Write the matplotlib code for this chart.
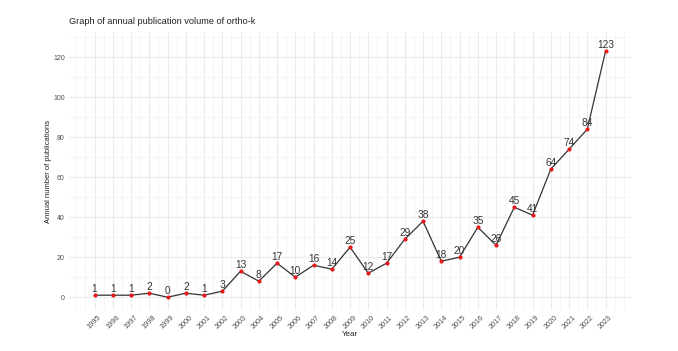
import matplotlib.pyplot as plt
from matplotlib.ticker import MultipleLocator

years = list(range(1995, 2024))
counts = [1, 1, 1, 2, 0, 2, 1, 3, 13, 8, 17, 10, 16, 14, 25, 12, 17, 29, 38,
          18, 20, 35, 26, 45, 41, 64, 74, 84, 123]

plt.rcParams["font.family"] = ["Liberation Sans", "DejaVu Sans"]

fig = plt.figure(figsize=(6.78, 3.51), dpi=100)
ax = fig.add_axes([0.1018, 0.1168, 0.829, 0.792])

ax.plot(years, counts, color="#333333", linewidth=0.9, zorder=3)
ax.scatter(years, counts, color="#E8191E", s=9, zorder=4, linewidths=0)
for x, y in zip(years, counts):
    ax.annotate(str(y), (x, y), xytext=(0, 1), textcoords="offset points",
                ha="center", va="bottom", fontsize=7.3, color="#333333", zorder=5)

ax.set_xlim(1993.6, 2024.4)
ax.set_ylim(-6.4, 132.6)
ax.set_xticks(years)
ax.set_xticklabels([str(y) for y in years], rotation=45, ha="center", fontsize=5.2,
                   color="#4D4D4D")
ax.xaxis.set_minor_locator(MultipleLocator(0.5))
ax.yaxis.set_major_locator(MultipleLocator(20))
ax.yaxis.set_minor_locator(MultipleLocator(10))
ax.tick_params(axis="y", labelsize=5.0, labelcolor="#4D4D4D")
ax.tick_params(which="both", length=0, pad=3)

ax.grid(True, which="major", color="#EBEBEB", linewidth=0.8)
ax.grid(True, which="minor", color="#F2F2F2", linewidth=0.5)
ax.set_axisbelow(True)
for s in ax.spines.values():
    s.set_visible(False)

ax.set_xlabel("Year", fontsize=5.8, color="#222222", labelpad=0)
ax.set_ylabel("Annual number of publications", fontsize=5.5, color="#222222", labelpad=1)
ax.set_title("Graph of annual publication volume of ortho-k", fontsize=6.6,
             loc="left", color="#222222", pad=6)

fig.savefig("out.png", dpi=100)
